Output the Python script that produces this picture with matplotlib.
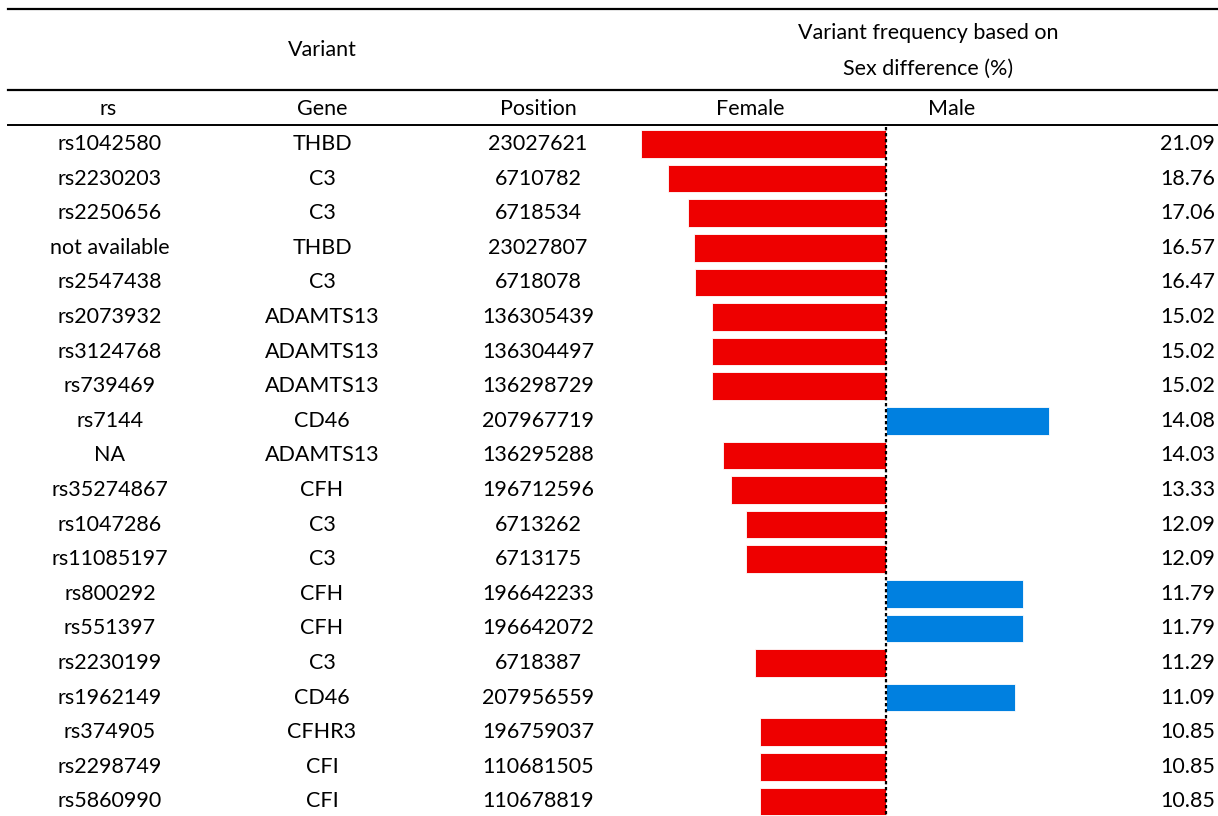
import matplotlib.pyplot as plt

rs_ids = ["rs1042580", "rs2230203", "rs2250656", "not available", "rs2547438",
          "rs2073932", "rs3124768", "rs739469", "rs7144", "NA",
          "rs35274867", "rs1047286", "rs11085197", "rs800292", "rs551397",
          "rs2230199", "rs1962149", "rs374905", "rs2298749", "rs5860990"]
genes = ["THBD", "C3", "C3", "THBD", "C3",
         "ADAMTS13", "ADAMTS13", "ADAMTS13", "CD46", "ADAMTS13",
         "CFH", "C3", "C3", "CFH", "CFH",
         "C3", "CD46", "CFHR3", "CFI", "CFI"]
positions = ["23027621", "6710782", "6718534", "23027807", "6718078",
             "136305439", "136304497", "136298729", "207967719", "136295288",
             "196712596", "6713262", "6713175", "196642233", "196642072",
             "6718387", "207956559", "196759037", "110681505", "110678819"]
freq = [21.09, 18.76, 17.06, 16.57, 16.47,
        15.02, 15.02, 15.02, 14.08, 14.03,
        13.33, 12.09, 12.09, 11.79, 11.79,
        11.29, 11.09, 10.85, 10.85, 10.85]
sex = ["F", "F", "F", "F", "F",
       "F", "F", "F", "M", "F",
       "F", "F", "F", "M", "M",
       "F", "M", "F", "F", "F"]

RED = "#ee0000"
BLUE = "#0080e0"

plt.rcParams["font.family"] = ["Lato", "DejaVu Sans"]
FS = 15.5

fig = plt.figure(figsize=(12.18, 8.16), dpi=100)
ax = fig.add_axes([0, 0, 1, 1])
ax.set_axis_off()

# scale: center line at 886 px, ~11.6 px per percent
ax.set_xlim(-886 / 11.6, (1218 - 886) / 11.6)
ax.set_ylim((816 - 144) / 34.6, -144 / 34.6)

rows = list(range(len(freq)))
vals = [-v if s == "F" else v for v, s in zip(freq, sex)]
cols = [RED if s == "F" else BLUE for s in sex]
ax.barh(rows, vals, height=0.8, color=cols, edgecolor="white", linewidth=0.6)

ax.plot([0, 0], [-0.5, 19.42], color="black", linestyle=(0, (1.5, 1.2)),
        linewidth=1.6)

tr = ax.get_yaxis_transform()  # x in axes fraction, y in data
for i in rows:
    ax.text(110 / 1218, i, rs_ids[i], transform=tr, ha="center", va="center", fontsize=FS)
    ax.text(322 / 1218, i, genes[i], transform=tr, ha="center", va="center", fontsize=FS)
    ax.text(538 / 1218, i, positions[i], transform=tr, ha="center", va="center", fontsize=FS)
    ax.text(1215 / 1218, i, f"{freq[i]:.2f}", transform=tr, ha="right", va="center", fontsize=FS)

# header
def fy(px):
    return 1 - px / 816

fig.text(322 / 1218, fy(50), "Variant", ha="center", va="center", fontsize=FS)
fig.text(928 / 1218, fy(33), "Variant frequency based on", ha="center", va="center", fontsize=FS)
fig.text(928 / 1218, fy(69), "Sex difference (%)", ha="center", va="center", fontsize=FS)
fig.text(108 / 1218, fy(109), "rs", ha="center", va="center", fontsize=FS)
fig.text(322 / 1218, fy(109), "Gene", ha="center", va="center", fontsize=FS)
fig.text(538 / 1218, fy(109), "Position", ha="center", va="center", fontsize=FS)
fig.text(750 / 1218, fy(109), "Female", ha="center", va="center", fontsize=FS)
fig.text(952 / 1218, fy(109), "Male", ha="center", va="center", fontsize=FS)

for ypx, lw in [(9, 1.6), (90, 1.6), (125, 1.4)]:
    fig.add_artist(plt.Line2D([8 / 1218, 1], [fy(ypx), fy(ypx)], color="black", linewidth=lw))

fig.savefig("out.png", dpi=100)
